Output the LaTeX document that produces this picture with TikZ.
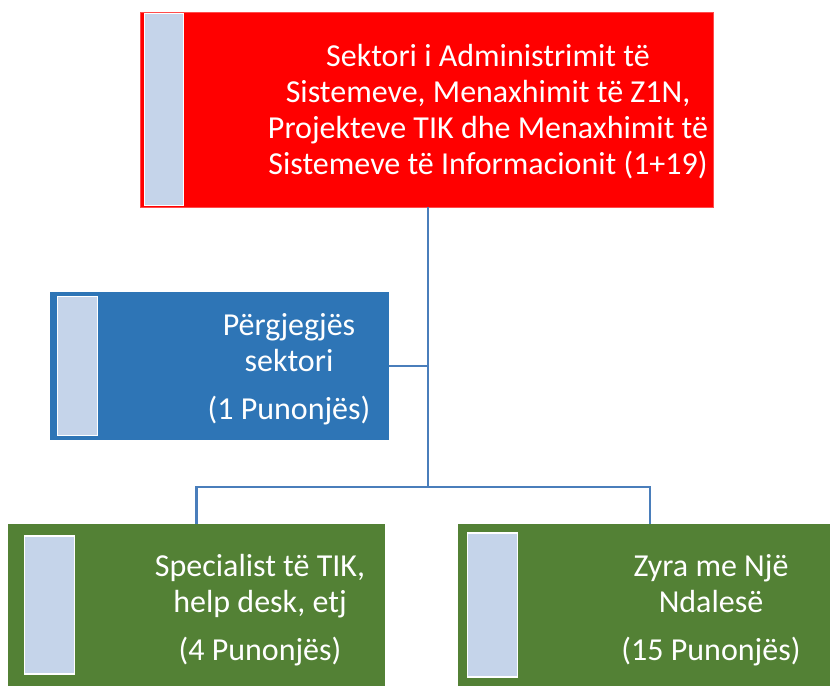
\documentclass[tikz,border=0pt]{standalone}
\usepackage{fontspec}
\setmainfont{Carlito}
\usepackage{tikz}
\usetikzlibrary{positioning,calc}
\definecolor{boxred}{HTML}{FF0000}
\definecolor{boxblue}{HTML}{2E75B6}
\definecolor{boxgreen}{HTML}{538135}
\definecolor{barlight}{HTML}{C5D4EA}
\definecolor{lineblue}{HTML}{4A7EBB}

\tikzset{
  orgbox/.style={rectangle, inner sep=0pt},
  sidebar/.style={rectangle, fill=barlight, draw=white, line width=1.5pt, inner sep=0pt},
  boxtext/.style={text=white, align=center, font=\fontsize{32}{36}\selectfont},
  orgline/.style={draw=lineblue, line width=2.2pt},
}

\begin{document}
\begin{tikzpicture}[x=1pt,y=1pt]
        \useasboundingbox (0,0) rectangle (830,686);
        \clip (0,0) rectangle (830,686);

        %% boxes
        \node (sektor)[orgbox, fill=boxred, draw=boxred!70!white, line width=0.8pt,
              minimum width=573pt, minimum height=195pt] at (426.5,576.5) {};
        \node (pergj)[orgbox, fill=boxblue, minimum width=339pt, minimum height=148pt] at (219.5,320) {};
        \node (spec)[orgbox, fill=boxgreen, minimum width=377pt, minimum height=162pt] at (196.5,81) {};
        \node (zyra)[orgbox, fill=boxgreen, minimum width=384pt, minimum height=162pt] at (650,81) {};

        %% light bars on the left side
        \node (sektorbar)[sidebar, minimum width=39pt, minimum height=192pt, right=4pt of sektor.west] {};
        \node (pergjbar)[sidebar, minimum width=40pt, minimum height=139pt, right=7pt of pergj.west] {};
        \node (specbar)[sidebar, minimum width=50pt, minimum height=138pt, right=16pt of spec.west] {};
        \node (zyrabar)[sidebar, minimum width=50pt, minimum height=144pt, right=9pt of zyra.west] {};

        %% texts
        \node (sektortxt)[boxtext] at (488,574)
              {Sektori i Administrimit të\\Sistemeve, Menaxhimit të Z1N,\\Projekteve TIK dhe Menaxhimit të\\Sistemeve të Informacionit (1+19)};
        \node (pergjtxt)[boxtext] at (289,317) {Përgjegjës\\sektori\\[12pt](1 Punonjës)};
        \node (spectxt)[boxtext] at (260,76) {Specialist të TIK,\\help desk, etj\\[12pt](4 Punonjës)};
        \node (zyratxt)[boxtext] at (711,76) {Zyra me Një\\Ndalesë\\[12pt](15 Punonjës)};

        %% connectors
        \coordinate (fork) at (428,199);
        \draw[orgline] (sektor.south -| fork) -- (fork);
        \draw[orgline] (pergj.east) -- (pergj.east -| fork);
        \draw[orgline] (fork) -| (spec.north);
        \draw[orgline] (fork) -| (zyra.north);

      \end{tikzpicture}
\end{document}
